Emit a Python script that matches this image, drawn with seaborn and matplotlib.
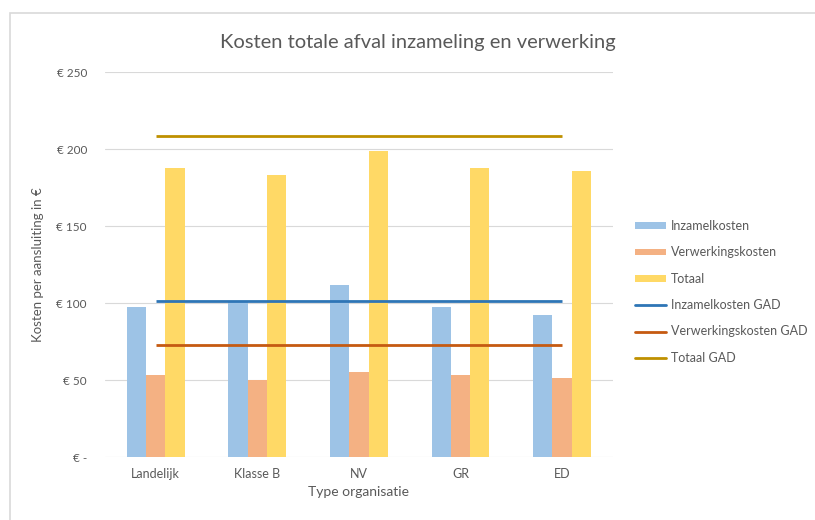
import seaborn as sns
import matplotlib.pyplot as plt
import pandas as pd
from matplotlib.patches import Patch, Rectangle
from matplotlib.lines import Line2D

categories = ['Landelijk', 'Klasse B', 'NV', 'GR', 'ED']
inzamelkosten = [97.5, 101, 112, 97.5, 92]
verwerkingskosten = [53, 50, 55, 53, 51.5]
totaal = [187.5, 183, 199, 187.5, 186]
inzamel_gad = [101.5, 101.5, 101.5, 101.5, 101.5]
verwerk_gad = [73, 73, 73, 73, 73]
totaal_gad = [208.5, 208.5, 208.5, 208.5, 208.5]
y_ticks = [0, 50, 100, 150, 200, 250]

bar_names = ['Inzamelkosten', 'Verwerkingskosten', 'Totaal']
bar_colors = ['#9DC3E6', '#F4B183', '#FFD966']
line_names = ['Inzamelkosten GAD', 'Verwerkingskosten GAD', 'Totaal GAD']
line_colors = ['#2E75B6', '#C55A11', '#BF9000']

df = pd.DataFrame({
    'Type organisatie': categories * 3,
    'Kosten': inzamelkosten + verwerkingskosten + totaal,
    'Serie': [n for n in bar_names for _ in categories],
})

sns.set_style('white')
plt.rcParams['font.family'] = ['Lato', 'DejaVu Sans']
text_color = '#595959'

fig = plt.figure(figsize=(8.15, 5.2), dpi=100)
ax = fig.add_axes([0.1288, 0.121, 0.6232, 0.7404])

sns.barplot(data=df, x='Type organisatie', y='Kosten', hue='Serie',
            hue_order=bar_names, palette=bar_colors, width=0.57, gap=0,
            saturation=1, linewidth=0, ax=ax, legend=False, zorder=2)

for vals, color in zip([inzamel_gad, verwerk_gad, totaal_gad], line_colors):
    ax.plot(categories, vals, color=color, linewidth=2.0, zorder=3,
            solid_capstyle='butt')

ax.set_xlim(-0.5, len(categories) - 0.5)
ax.set_ylim(0, 250)
ax.set_yticks(y_ticks)
ax.set_yticklabels(['€ -' if v == 0 else f'€ {v}' for v in y_ticks])
ax.grid(axis='y', color='#D9D9D9', linewidth=0.8, zorder=0)
ax.set_axisbelow(True)
for s in ax.spines.values():
    s.set_visible(False)
ax.tick_params(axis='both', length=0, colors=text_color, labelsize=9)
ax.tick_params(axis='y', labelsize=8.5, pad=13)
ax.tick_params(axis='x', pad=8)

ax.set_xlabel('Type organisatie', fontsize=10, color=text_color, labelpad=4)
ax.set_ylabel('Kosten per aansluiting in €', fontsize=9.5, color=text_color,
              labelpad=9)
fig.text(0.513, 0.919, 'Kosten totale afval inzameling en verwerking',
         ha='center', va='center', fontsize=14.5, color=text_color)

handles = [Patch(facecolor=c, edgecolor='none') for c in bar_colors]
handles += [Line2D([0], [0], color=c, linewidth=2.0) for c in line_colors]
leg = fig.legend(handles, bar_names + line_names, loc='upper left',
                 bbox_to_anchor=(0.779, 0.577), frameon=False, fontsize=9,
                 handlelength=2.5, handleheight=0.45, handletextpad=0.35,
                 labelspacing=1.15, borderaxespad=0, borderpad=0)
for t in leg.get_texts():
    t.set_color(text_color)

fig.patches.append(Rectangle((10 / 815, -0.1), 1.2, 1 - 13 / 520 + 0.1,
                             transform=fig.transFigure, fill=False,
                             edgecolor='#D9D9D9', linewidth=1.2))

fig.savefig('out.png', dpi=100)
